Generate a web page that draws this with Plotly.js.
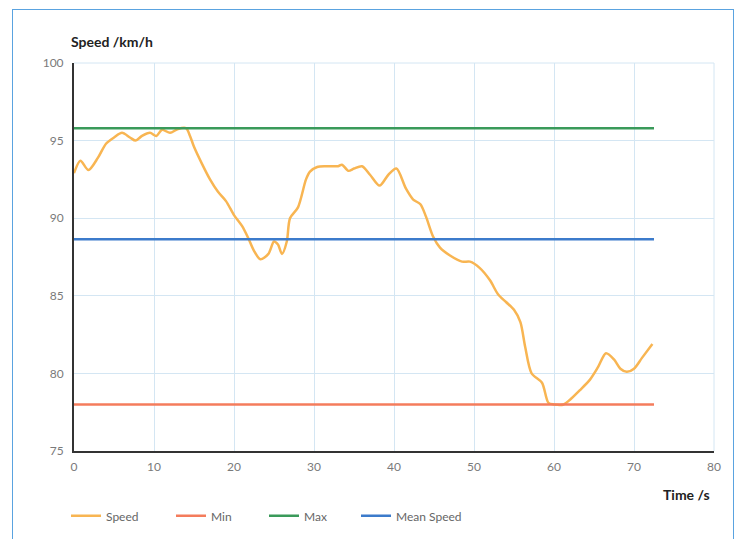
<!DOCTYPE html>
<html>
<head>
<meta charset="utf-8">
<script src="https://cdn.plot.ly/plotly-3.0.1.min.js"></script>
<style>
  html, body { margin: 0; padding: 0; background: #fff; }
  #wrap { position: relative; width: 741px; height: 539px; }
  #chart { position: absolute; left: 0; top: 0; width: 741px; height: 539px; }
  #frame { position: absolute; left: 12px; top: 9px; width: 720px; height: 540px;
           border: 1.5px solid #5AA3E0; pointer-events: none; }
</style>
</head>
<body>
<div id="wrap">
  <div id="chart"></div>
  <div id="frame"></div>
</div>
<script>
const timeS = [0, 0.8, 1.8, 3, 4, 5, 6, 7, 7.7, 8.5, 9.5, 10.3, 11, 12, 13, 14, 14.5, 15, 16, 17, 18, 19, 20, 21, 21.8, 22.5, 23.3, 24.3, 25, 25.5, 26, 26.6, 27, 28, 29, 29.5, 30.4, 31.5, 33, 33.5, 34.3, 35, 36, 37, 38.2, 39.3, 40.3, 41.5, 42.4, 43.3, 44, 44.9, 45.75, 47, 48.5, 49.5, 50.7, 52, 53, 54, 55, 55.8, 56.4, 57.2, 58.5, 59.3, 60, 61.2, 62, 63.2, 64.5, 65.5, 66.5, 67.5, 68.3, 69.1, 70, 71, 72.3];
const speed = [92.9, 93.7, 93.1, 93.9, 94.8, 95.2, 95.5, 95.2, 95.0, 95.3, 95.5, 95.3, 95.7, 95.5, 95.75, 95.8, 95.3, 94.6, 93.5, 92.5, 91.7, 91.1, 90.2, 89.5, 88.7, 87.9, 87.35, 87.7, 88.5, 88.3, 87.7, 88.5, 90.0, 90.7, 92.5, 93.0, 93.3, 93.35, 93.35, 93.45, 93.05, 93.2, 93.35, 92.8, 92.1, 92.8, 93.2, 91.9, 91.2, 90.9, 90.1, 88.8, 88.1, 87.6, 87.2, 87.2, 86.8, 86.0, 85.1, 84.6, 84.1, 83.3, 81.7, 80.0, 79.4, 78.1, 78.0, 78.0, 78.3, 78.9, 79.6, 80.4, 81.3, 80.9, 80.3, 80.1, 80.3, 81.0, 81.9];
const refTime = [0, 72.5];
const minSpeed = 78.0;
const maxSpeed = 95.8;
const meanSpeed = 88.65;
const xTicks = [0, 10, 20, 30, 40, 50, 60, 70, 80];
const yTicks = [75, 80, 85, 90, 95, 100];

const traces = [
  {x: timeS, y: speed, name: 'Speed', mode: 'lines', legend: 'legend',
   line: {color: '#F8B552', width: 2.5, shape: 'spline', smoothing: 0.8}},
  {x: refTime, y: [minSpeed, minSpeed], name: 'Min', mode: 'lines', legend: 'legend2',
   line: {color: '#F47C5C', width: 2.5}},
  {x: refTime, y: [maxSpeed, maxSpeed], name: 'Max', mode: 'lines', legend: 'legend3',
   line: {color: '#3A9A5A', width: 2.5}},
  {x: refTime, y: [meanSpeed, meanSpeed], name: 'Mean Speed', mode: 'lines', legend: 'legend4',
   line: {color: '#3C7BCB', width: 2.5}}
];

const legFont = {family: 'Lato, sans-serif', size: 12, color: '#666'};
function leg(xp) {
  return {orientation: 'h', x: xp, y: 0.043, xref: 'container', yref: 'container',
          xanchor: 'left', yanchor: 'middle', font: legFont, itemwidth: 30,
          bgcolor: 'rgba(0,0,0,0)'};
}

const tickFont = {family: 'Lato, sans-serif', size: 12, color: '#7a7a7a'};
const layout = {
  width: 741, height: 539,
  margin: {l: 74, r: 27, t: 63, b: 88},
  paper_bgcolor: '#fff', plot_bgcolor: '#fff',
  showlegend: true,
  legend: leg(66 / 741),
  legend2: leg(171 / 741),
  legend3: leg(264 / 741),
  legend4: leg(356 / 741),
  xaxis: {range: [0, 80], tickvals: xTicks, ticktext: xTicks.map(String),
          showgrid: true, gridcolor: '#D4E6F3', gridwidth: 1,
          showline: true, linecolor: '#333', linewidth: 2, mirror: false,
          zeroline: false, ticks: '', tickfont: tickFont, ticklabelstandoff: 4},
  yaxis: {range: [75, 100], tickvals: yTicks, ticktext: yTicks.map(String),
          showgrid: true, gridcolor: '#D4E6F3', gridwidth: 1,
          showline: true, linecolor: '#333', linewidth: 2,
          zeroline: false, ticks: '', tickfont: tickFont, ticklabelstandoff: 6},
  shapes: [
    {type: 'line', xref: 'paper', yref: 'paper', x0: 1, x1: 1, y0: 0, y1: 1,
     line: {color: '#D4E6F3', width: 1}},
    {type: 'line', xref: 'paper', yref: 'paper', x0: 0, x1: 1, y0: 1, y1: 1,
     line: {color: '#D4E6F3', width: 1}}
  ],
  annotations: [
    {text: '<b>Speed /km/h</b>', xref: 'paper', yref: 'paper', x: -0.008, y: 1.055,
     xanchor: 'left', yanchor: 'middle', showarrow: false,
     font: {family: 'Lato, sans-serif', size: 14, color: '#222'}},
    {text: '<b>Time /s</b>', xref: 'paper', yref: 'paper', x: 0.997, y: -0.113,
     xanchor: 'right', yanchor: 'middle', showarrow: false,
     font: {family: 'Lato, sans-serif', size: 14, color: '#222'}}
  ]
};

Plotly.newPlot('chart', traces, layout, {displayModeBar: false, staticPlot: true});
</script>
</body>
</html>
